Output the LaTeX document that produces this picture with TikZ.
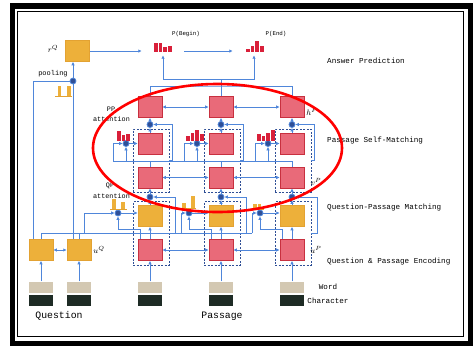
\documentclass[tikz,border=0pt]{standalone}
\usepackage{fontspec}
\setmonofont{Liberation Mono}
\usepackage{tikz}
\usetikzlibrary{arrows.meta}
\definecolor{wireblue}{HTML}{4F86DA}
\definecolor{knotblue}{HTML}{2F4F96}
\definecolor{rfill}{HTML}{E96A79}
\definecolor{rline}{HTML}{C8303F}
\definecolor{yfill}{HTML}{EDB03A}
\definecolor{yline}{HTML}{E3A232}
\definecolor{wordc}{HTML}{D3C8B2}
\definecolor{charc}{HTML}{1E2B25}
\definecolor{barr}{HTML}{D9203A}
\tikzset{
  rcell/.style={draw=rline,fill=rfill,line width=0.8pt,minimum width=24pt,minimum height=21pt,inner sep=0pt},
  ycell/.style={draw=yline,fill=yfill,line width=0.5pt,minimum width=24pt,minimum height=21pt,inner sep=0pt},
  wcell/.style={fill=wordc,minimum width=24pt,minimum height=11pt,inner sep=0pt},
  ccell/.style={fill=charc,minimum width=24pt,minimum height=11pt,inner sep=0pt},
  knot/.style={circle,fill=knotblue,draw=wireblue,line width=0.8pt,inner sep=0pt,minimum size=6pt},
  wire/.style={draw=wireblue,line width=1pt},
  arr/.style={wire,-{Latex[length=3.5pt,width=3.5pt]}},
  darr/.style={wire,{Latex[length=3.5pt,width=3.5pt]}-{Latex[length=3.5pt,width=3.5pt]}},
  dbox/.style={draw=knotblue,dash pattern=on 2pt off 1.5pt,line width=0.8pt,minimum width=36pt,inner sep=0pt},
  hold/.style={minimum width=42pt,minimum height=8pt,inner sep=0pt},
  lbl/.style={font=\ttfamily\fontsize{7.6}{9}\selectfont,inner sep=0pt},
  tiny/.style={font=\ttfamily\fontsize{6.8}{8}\selectfont,inner sep=0pt},
  big/.style={font=\ttfamily\fontsize{9.8}{11}\selectfont,inner sep=0pt},
  sym/.style={font=\fontsize{8.5}{9}\selectfont,inner sep=0pt}
}
\newcommand{\hist}[4]{%
  \foreach \hh [count=\k from 0] in {#4}{%
    \fill[#3] ({#1+\k*4.6},#2) rectangle ++(3.8,-\hh);}}
\newcommand{\hbase}[3]{\draw[yline,line width=0.6pt] (#1,#3) -- (#2,#3);}

\begin{document}
\begin{tikzpicture}[x=1pt,y=-1pt]
  \useasboundingbox (0,0) rectangle (474,349);
  \draw[line width=5.5pt] (12.5,5.8) rectangle (470.5,343.5);
  \draw[line width=1.2pt] (17.8,11.2) rectangle (463.2,336.2);

  \coordinate (sb) at (113,161);
  \coordinate (qb) at (41,233);
  \foreach \i/\x/\f in {1/150/84,2/221/181,3/292/252}{
    \node[dbox,minimum height=63pt] (up\i) at (\x+1,160.5) {};
    \node[dbox,minimum height=63.5pt] (lo\i) at (\x+1,233.25) {};
    \node[rcell] (h\i) at (\x,107) {};
    \node[knot] (hg\i) at (\x,124.5) {};
    \node[rcell] (sm\i) at (\x,143.5) {};
    \node[knot] (sa\i) at (\x-24,143.5) {};
    \node[rcell] (vp\i) at (\x,177.5) {};
    \node[knot] (vg\i) at (\x,197) {};
    \node[ycell] (qp\i) at (\x,216) {};
    \node[knot] (qa\i) at (\x-32,213) {};
    \node[rcell] (en\i) at (\x,250) {};
    \node[wcell] (wd\i) at (\x,287) {};
    \node[ccell] (ch\i) at (\x,300.5) {};
    \coordinate (qf\i) at (\f,233);
    \coordinate (uf\i) at (\x-32,229);
    \draw[arr] (wd\i) -- (en\i);
    \draw[arr] (en\i) -- (qp\i);
    \draw[arr] (qp\i) -- (vg\i);
    \draw[arr] (vg\i) -- (vp\i);
    \draw[arr] (lo\i.east) -- ++(6,0) |- (vg\i);
    \draw[wire] (vp\i) -- (vp\i |- sb);
    \draw[arr] (sa\i |- sb) -- (sa\i);
    \draw[arr] (sa\i |- sb) ++(-13,0) |- (sa\i);
    \draw[arr] (sa\i) -- (sm\i);
    \draw[arr] (sm\i) -- (hg\i);
    \draw[arr] (hg\i) -- (h\i);
    \draw[arr] (up\i.east) -- ++(3,0) |- (hg\i);
    \draw[arr] (qa\i) -- (qa\i -| qp\i.west);
    \draw[arr] (qf\i) |- (qa\i);
    \draw[arr] (en\i.north west) ++(3,0) |- (uf\i) -- (qa\i);
  }
  \foreach \a/\b in {1/2,2/3}{
    \draw[darr] (h\a) -- (h\b);
    \draw[darr] (vp\a) -- (vp\b);
    \draw[darr] (en\a) -- (en\b);
  }
  \draw[wire] (sb) -- (vp3 |- sb);

  \node[ycell] (q1) at (41,250) {};
  \node[ycell] (q2) at (79,250) {};
  \node[wcell] (qw1) at (41,287) {};
  \node[ccell] (qc1) at (41,300.5) {};
  \node[wcell] (qw2) at (79,287) {};
  \node[ccell] (qc2) at (79,300.5) {};
  \draw[arr] (qw1) -- (q1);
  \draw[arr] (qw2) -- (q2);
  \draw[darr] (q1) -- (q2);
  \draw[wire] (q1) -- (qb) -- (qf3);
  \draw[wire] (q2) -- (q2 |- qb);

  \node[ycell] (rq) at (77.5,51) {};
  \node[knot] (pd) at (73,81) {};
  \draw[wire] (pd) -| (q1.125);
  \draw[wire] (pd) -- (pd |- q2.north);
  \draw[arr] (pd) -- (pd |- rq.south);
  \hist{57.5}{96}{yfill}{10,0,10}
  \hbase{55}{72}{96}

  \node[hold] (pb) at (163,51) {};
  \node[hold] (pe) at (254,51) {};
  \hist{154}{52}{barr}{9,9,5,6}
  \hist{246}{52}{barr}{3,6,11,6}
  \draw[arr] (rq) -- (pb);
  \draw[arr] (pb) -- (pe);
  \coordinate (hb) at (221,86);
  \coordinate (pj) at (221,79);
  \draw[wire] (h1) |- (hb) -| (h3);
  \draw[wire] (h2) -- (pj);
  \draw[arr] (pj) -| (pb);
  \draw[arr] (pj) -| (pe);

  \hist{117}{141}{barr}{10,6,7}
  \hist{186}{141}{barr}{5,8,11,7}
  \hist{257}{141}{barr}{7,5,8,11}
  \hist{112}{209}{yfill}{10,0,7}
  \hbase{110}{127}{209}
  \hist{182}{208}{yfill}{5,0,12}
  \hbase{180}{196}{208}
  \hist{253}{209}{yfill}{5,5}
  \hbase{251}{264}{209}

  \node[lbl,font=\ttfamily\fontsize{5.8}{7}\selectfont] (tpb) at (186,34) {P(Begin)};
  \node[lbl,font=\ttfamily\fontsize{5.8}{7}\selectfont] (tpe) at (276,34) {P(End)};
  \node[lbl,anchor=west] (tans) at (327,61) {Answer Prediction};
  \node[lbl,anchor=west] (tsm) at (327,141) {Passage Self-Matching};
  \node[lbl,anchor=west] (tqp) at (327,208) {Question-Passage Matching};
  \node[lbl,anchor=west] (tenc) at (327,262) {Question \& Passage Encoding};
  \node[lbl] (tword) at (328,287) {Word};
  \node[lbl] (tchar) at (328,301) {Character};
  \node[big] (tq) at (59,316) {Question};
  \node[big] (tp) at (222,316) {Passage};
  \node[tiny,font=\ttfamily\fontsize{7}{8}\selectfont] (tpool) at (53,74) {pooling};
  \node[tiny] (tpp) at (111,109) {PP};
  \node[tiny] (tppa) at (111.5,119) {attention};
  \node[tiny] (tqa) at (110,186) {QP};
  \node[tiny] (tqaa) at (111.5,196) {attention};
  \node[sym] (trq) at (53,49) {$r^Q$};
  \node[sym] (tuq) at (99,250) {$u^Q$};
  \node[sym] (tup) at (316,250) {$u^P$};
  \node[sym] (tvp) at (316,182) {$v^P$};
  \node[sym] (th) at (312,112) {$h^P$};

  \draw[red,line width=2.6pt] (217.5,148) ellipse [x radius=124.5pt,y radius=64pt];
\end{tikzpicture}
\end{document}
